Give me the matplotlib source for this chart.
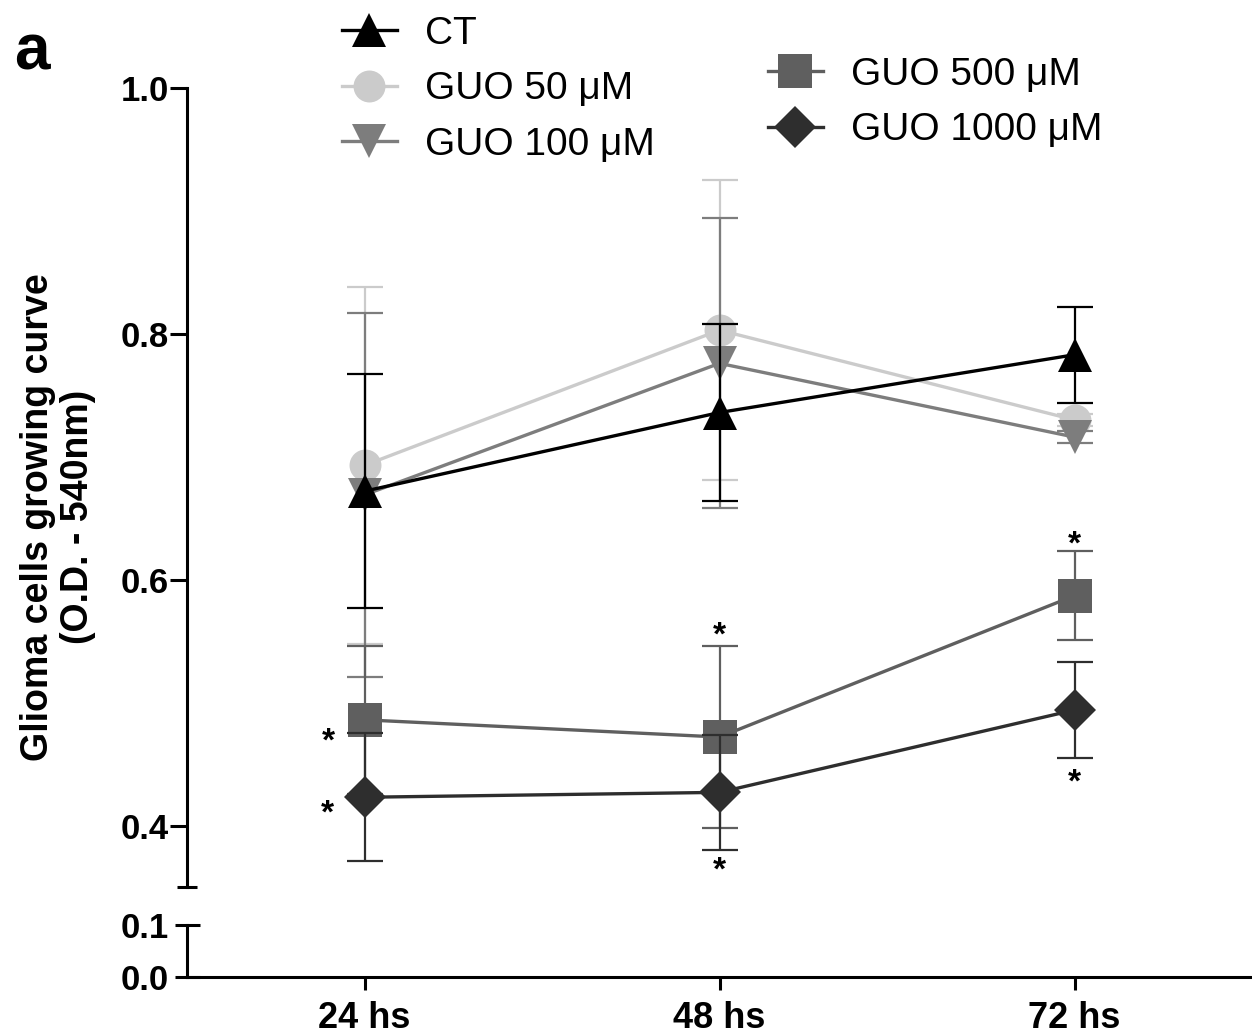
import matplotlib
matplotlib.use("Agg")
import matplotlib.pyplot as plt
import numpy as np

plt.rcParams['font.family'] = ['Liberation Sans', 'DejaVu Sans']

# ---- data ----
timepoints = ["24 hs", "48 hs", "72 hs"]
ct_mean = [0.672, 0.736, 0.783]
ct_err = [0.095, 0.072, 0.039]
guo50_mean = [0.693, 0.803, 0.730]
guo50_err = [0.145, 0.122, 0.005]
guo100_mean = [0.669, 0.776, 0.716]
guo100_err = [0.148, 0.118, 0.005]
guo500_mean = [0.486, 0.472, 0.587]
guo500_err = [0.060, 0.074, 0.036]
guo1000_mean = [0.423, 0.427, 0.494]
guo1000_err = [0.052, 0.047, 0.039]
labels = ["CT", "GUO 50 μM", "GUO 100 μM", "GUO 500 μM", "GUO 1000 μM"]

W, H = 1252, 1034
fig = plt.figure(figsize=(W / 100, H / 100), dpi=100)

left = 187 / W
width = 1 - left
ax = fig.add_axes([left, (H - 887) / H, width, (887 - 88) / H])
axb = fig.add_axes([left, (H - 977) / H, width, 52 / H], sharex=ax)

x = np.arange(len(timepoints))

series = [
    (guo50_mean, guo50_err, '#cbcbcb', 'o', 23, 1, labels[1]),
    (guo100_mean, guo100_err, '#7d7d7d', 'v', 25, 2, labels[2]),
    (ct_mean, ct_err, '#000000', '^', 25, 3, labels[0]),
    (guo500_mean, guo500_err, '#5f5f5f', 's', 24, 4, labels[3]),
    (guo1000_mean, guo1000_err, '#2e2e2e', 'D', 21, 5, labels[4]),
]
handles = {}
for m, e, c, mk, ms, z, lab in series:
    ax.errorbar(x, m, yerr=e, color=c, ecolor=c, elinewidth=1.6, capsize=13,
                capthick=1.6, lw=0, zorder=z)
    ln, = ax.plot(x, m, color=c, marker=mk, ms=ms, lw=2.4, zorder=z + 0.5,
                  markeredgewidth=0)
    handles[lab] = ln

# significance asterisks
star_kw = dict(fontsize=24, fontweight='bold', ha='center', va='center',
               textcoords='offset points', zorder=10)
ax.annotate('*', (x[0], guo500_mean[0]), xytext=(-26, -16), **star_kw)
ax.annotate('*', (x[0], guo1000_mean[0]), xytext=(-27, -12), **star_kw)
ax.annotate('*', (x[1], guo500_mean[1] + guo500_err[1]), xytext=(0, 7), **star_kw)
ax.annotate('*', (x[1], guo1000_mean[1] - guo1000_err[1]), xytext=(0, -15), **star_kw)
ax.annotate('*', (x[2], guo500_mean[2] + guo500_err[2]), xytext=(0, 4.5), **star_kw)
ax.annotate('*', (x[2], guo1000_mean[2] - guo1000_err[2]), xytext=(0, -18), **star_kw)

# upper axis styling
ax.set_ylim(0.35, 1.0)
ax.set_xlim(-0.5, 2.5)
ax.set_yticks([0.4, 0.6, 0.8, 1.0])
ax.set_yticklabels(['0.4', '0.6', '0.8', '1.0'])
ax.set_yticks([0.35], minor=True)
for s in ['top', 'right', 'bottom']:
    ax.spines[s].set_visible(False)
ax.spines['left'].set_linewidth(2.2)
ax.tick_params(axis='y', which='major', length=12, width=2.2, labelsize=25, pad=1)
ax.tick_params(axis='y', which='minor', length=15, width=2.2, direction='inout')
ax.tick_params(axis='x', which='both', bottom=False, labelbottom=False)
for t in ax.get_yticklabels():
    t.set_fontweight('bold')
ax.patch.set_alpha(0)

# lower axis styling
axb.set_ylim(0, 0.1)
axb.set_yticks([0.0, 0.1])
axb.set_yticklabels(['0.0', '0.1'])
for s in ['top', 'right']:
    axb.spines[s].set_visible(False)
axb.spines['left'].set_linewidth(2.2)
axb.spines['bottom'].set_linewidth(2.2)
axb.tick_params(axis='y', length=18, width=2.2, labelsize=25, pad=4, direction='inout')
axb.tick_params(axis='x', length=9, width=2.2, labelsize=26, pad=8)
axb.set_xticks(x)
axb.set_xticklabels(timepoints)
for t in axb.get_yticklabels() + axb.get_xticklabels():
    t.set_fontweight('bold')
axb.patch.set_alpha(0)

fig.text(58 / W, (H - 517) / H, "Glioma cells growing curve\n(O.D. - 540nm)",
         rotation=90, ha='center', va='center', fontsize=27, fontweight='bold',
         linespacing=1.15)
fig.text(14 / W, (H - 70) / H, "a", fontsize=46, fontweight='bold',
         ha='left', va='baseline')

leg_kw = dict(frameon=False, fontsize=28, handlelength=1.41, handletextpad=0.72,
              borderpad=0, borderaxespad=0, labelspacing=0.5, loc='upper left')
fig.legend([handles[l] for l in labels[:3]], labels[:3],
           bbox_to_anchor=(342 / W, (H - 16) / H), **leg_kw)
fig.legend([handles[l] for l in labels[3:]], labels[3:],
           bbox_to_anchor=(768 / W, (H - 57) / H), **leg_kw)

fig.savefig("out.png", dpi=100)
